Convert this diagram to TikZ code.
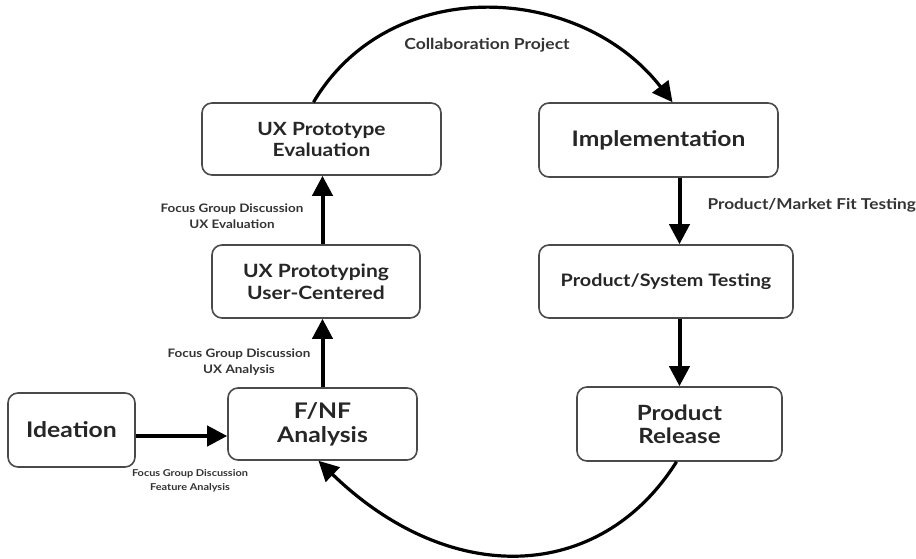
\documentclass[tikz,border=0pt]{standalone}
\usepackage{fontspec}
\setmainfont{Lato}[FakeStretch=1.15]
\usepackage{tikz}
\usetikzlibrary{positioning,arrows.meta}
\definecolor{boxline}{HTML}{4A4A4A}
\definecolor{labeltext}{HTML}{333333}

\begin{document}
\begin{tikzpicture}[x=1pt,y=1pt,>={Triangle[length=20pt,width=20pt]},
		stage/.style={draw=boxline,line width=1.6pt,rounded corners=10pt,align=center,text=black!85,font=\bfseries\fontsize{18.3}{22}\selectfont},
		flow/.style={->,line width=4pt},
		arc/.style={->,line width=3.2pt},
		note/.style={align=center,text=labeltext,font=\bfseries\fontsize{11.7}{16}\selectfont}]
		\useasboundingbox (0,0) rectangle (916,558);
		\node[stage,minimum width=127pt,minimum height=74pt,font=\bfseries\fontsize{21.5}{24}\selectfont] (ideation) at (71.5,128) {Ideation};
		\node[stage,minimum width=189pt,minimum height=72pt,font=\bfseries\fontsize{21.5}{24}\selectfont] (fnf) at (322.5,134) {F/NF\\Analysis};
		\node[stage,minimum width=208pt,minimum height=73pt] (uxp) at (316,276.5) {UX Prototyping\\User-Centered};
		\node[stage,minimum width=239pt,minimum height=72pt,font=\bfseries\fontsize{18.2}{21}\selectfont] (uxe) at (321.5,419) {UX Prototype\\Evaluation};
		\node[stage,minimum width=239pt,minimum height=74pt,font=\bfseries\fontsize{21.4}{24}\selectfont] (impl) at (658.5,418) {Implementation};
		\node[stage,minimum width=254pt,minimum height=73pt,font=\bfseries\fontsize{17.2}{20}\selectfont] (test) at (666,276.5) {Product/System Testing};
		\node[stage,minimum width=205pt,minimum height=74pt,font=\bfseries\fontsize{21}{23}\selectfont] (rel) at (679.5,134) {Product\\Release};

		% left column
		\draw[flow] ([yshift=-6pt]ideation.east) -- ([yshift=-6pt]ideation.east -| fnf.west);
		\draw[flow] (fnf.north) -- (fnf.north |- uxp.south);
		\draw[flow] (fnf.north |- uxp.north) -- (fnf.north |- uxe.south);
		% right column
		\draw[flow] (rel.north |- impl.south) -- (rel.north |- test.north);
		\draw[flow] (rel.north |- test.south) -- (rel.north);
		% loops
		\draw[arc] ([xshift=-8pt]uxe.north) .. controls (390,585) and (580,575) .. ([xshift=14pt]impl.north);
		\draw[arc] ([xshift=-3pt]rel.south) .. controls (600,-25) and (450,-30) .. ([xshift=-4pt]fnf.south);

		\node[note,font=\bfseries\fontsize{15.2}{16}\selectfont] (collab) at (487,513) {Collaboration Project};
		\node[note] (evalnote) at (232,342) {Focus Group Discussion\\UX Evaluation};
		\node[note] (ananote) at (239,196) {Focus Group Discussion\\UX Analysis};
		\node[note,font=\bfseries\fontsize{9.5}{14}\selectfont] (featnote) at (190,77) {Focus Group Discussion\\Feature Analysis};
		\node[note,anchor=west,font=\bfseries\fontsize{15}{16}\selectfont] (fitnote) at (704,353) {Product/Market Fit Testing};
	\end{tikzpicture}
\end{document}
